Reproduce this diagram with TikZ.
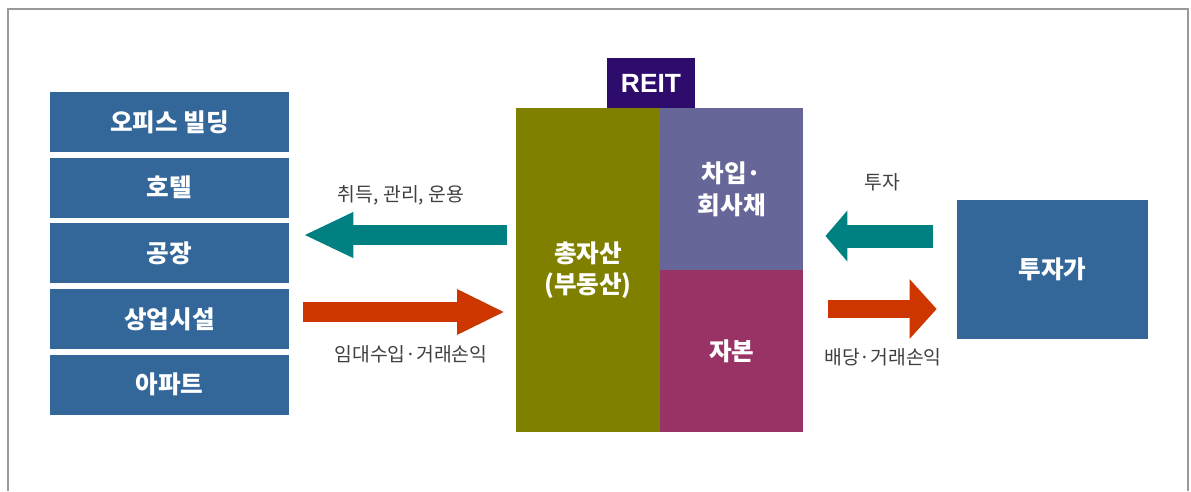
\documentclass[tikz,border=0pt]{standalone}
\usepackage{fontspec}
\setmainfont{Noto Sans CJK KR}
\newfontfamily\reitfont{Liberation Sans}
\usetikzlibrary{positioning,arrows.meta}
\definecolor{boxblue}{RGB}{51,102,153}
\definecolor{flowteal}{RGB}{0,128,128}
\definecolor{flowred}{RGB}{206,54,0}
\definecolor{assetolive}{RGB}{128,128,0}
\definecolor{debtslate}{RGB}{102,102,153}
\definecolor{equityplum}{RGB}{153,51,102}
\definecolor{reitnavy}{RGB}{46,12,108}
\tikzstyle{asset} = [rectangle, fill=boxblue, text=white, minimum width=4.78cm, minimum height=1.2cm, font=\bfseries\fontsize{14}{16}\selectfont]
\tikzstyle{part} = [rectangle, text=white, align=center, outer sep=0pt, minimum width=2.87cm, font=\bfseries\fontsize{14}{18}\selectfont]
\tikzstyle{flow} = [draw, line width=0.4cm, -{Triangle[length=1cm, width=0.84cm]}]
\tikzstyle{flowshort} = [draw, line width=0.44cm, -{Triangle[length=0.5cm, width=1.12cm]}]
\tikzstyle{note} = [font=\fontsize{11}{13}\selectfont, text=black!75]

\begin{document}
\begin{tikzpicture}[x=0.02cm, y=-0.02cm, node distance=0.1cm]
    % Frame
    \useasboundingbox (0,0) rectangle (1191,491);
    \draw [black!40, line width=0.8pt] (8,491) -- (8,9) -- (1188,9) -- (1188,491);
    % Place nodes
    \node [asset] (office) at (169.5,122) {오피스 빌딩};
    \node [asset, below=of office] (hotel) {호텔};
    \node [asset, below=of hotel] (factory) {공장};
    \node [asset, below=of factory] (retail) {상업시설};
    \node [asset, below=of retail] (apartment) {아파트};
    \node [part, fill=assetolive, minimum width=2.88cm, minimum height=6.48cm] (assets) at (588,270) {총자산\\(부동산)};
    \node [part, fill=debtslate, minimum height=3.24cm, anchor=north west] (debt) at (assets.north east) {차입·\\회사채};
    \node [part, fill=equityplum, minimum height=3.24cm, below=0cm of debt] (equity) {자본};
    \node [rectangle, fill=reitnavy, text=white, outer sep=0pt, minimum width=1.76cm, minimum height=1cm, anchor=south, font=\reitfont\bfseries\fontsize{15}{17}\selectfont] (reit) at (651,108) {REIT};
    \node [asset, minimum width=3.82cm, minimum height=2.78cm] (investor) at (1052.5,269.5) {투자가};
    % Labels
    \node [note] (buylabel) at (401,195) {취득, 관리, 운용};
    \node [note] (rentlabel) at (411,354) {임대수입·거래손익};
    \node [note] (investlabel) at (882,182) {투자};
    \node [note] (payoutlabel) at (883,357) {배당·거래손익};
    % Draw edges
    \coordinate (buy) at ([yshift=0.7cm]assets.west);
    \coordinate (rent) at ([yshift=-0.84cm]assets.west);
    \coordinate (invest) at ([yshift=0.67cm]investor.west);
    \coordinate (payout) at ([yshift=-0.79cm]investor.west);
    \path [flow, draw=flowteal, fill=flowteal, shorten <=0.18cm, shorten >=0.28cm] (buy) -- (buy -| factory.east);
    \path [flow, draw=flowred, fill=flowred, -{Triangle[length=0.96cm, width=0.84cm]}, shorten <=0.28cm, shorten >=0.22cm] (rent -| factory.east) -- (rent);
    \path [flowshort, draw=flowteal, fill=flowteal, line width=0.46cm, -{Triangle[length=0.44cm, width=1.0cm]}, shorten <=0.48cm, shorten >=0.44cm] (invest) -- (invest -| debt.east);
    \path [flowshort, draw=flowred, fill=flowred, line width=0.38cm, -{Triangle[length=0.54cm, width=1.16cm]}, shorten <=0.5cm, shorten >=0.4cm] (payout -| equity.east) -- (payout);

\end{tikzpicture}
\end{document}
